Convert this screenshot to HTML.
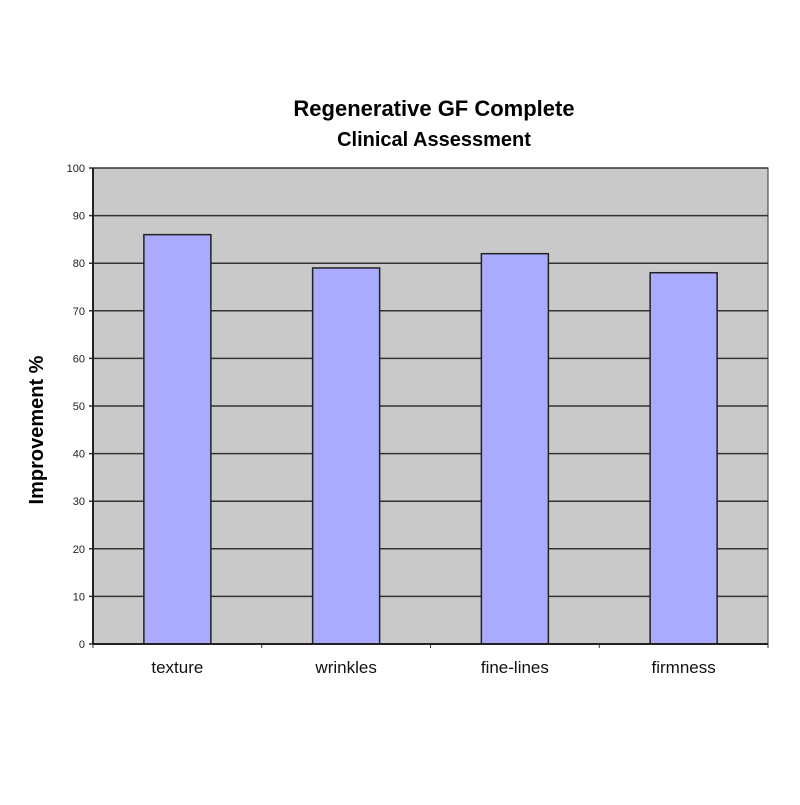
<!DOCTYPE html>
<html><head><meta charset="utf-8"><style>
body{margin:0;background:#fff;}
svg text{font-family:"Liberation Sans",sans-serif;}
</style></head><body>
<svg width="800" height="800" xmlns="http://www.w3.org/2000/svg">
<text x="434" y="116" text-anchor="middle" font-size="22" font-weight="bold">Regenerative GF Complete</text>
<text x="434" y="146" text-anchor="middle" font-size="20" font-weight="bold">Clinical Assessment</text>
<text transform="translate(43,430) rotate(-90)" text-anchor="middle" font-size="20" font-weight="bold">Improvement %</text>
<g id="plot"></g>
</svg>
<script>
const categories = ["texture","wrinkles","fine-lines","firmness"];
const values = [86,79,82,78];
const yTicks = [0,10,20,30,40,50,60,70,80,90,100];
const L=93,R=768,T=168,B=644,NS="http://www.w3.org/2000/svg";
const y=v=>B-(v/100)*(B-T);
const bw=(R-L)/categories.length;
const x=i=>L+bw*i;
const g=document.getElementById('plot');
function mk(t,a){const e=document.createElementNS(NS,t);for(const k in a)e.setAttribute(k,a[k]);g.appendChild(e);return e;}
let e=mk('rect',{x:L,y:T,width:R-L,height:B-T,fill:'#c9c9c9',stroke:'#333','stroke-width':1});


yTicks.forEach(v=>{
  const l=mk('line',{x1:L-4,x2:R,y1:y(v),y2:y(v),stroke:'#333','stroke-width':1.5});
  
  
  const t=mk('text',{x:L-8,y:y(v)+4,'text-anchor':'end','font-size':11,fill:'#222'});
  t.textContent=v;
  
  
});
categories.forEach((c,i)=>{
  const cx=x(i)+bw/2,w=67;
  const r=mk('rect',{x:cx-w/2,y:y(values[i]),width:w,height:B-y(values[i]),fill:'#aaaaff',stroke:'#222','stroke-width':1.5});
  
  
  const t=mk('text',{x:cx,y:673,'text-anchor':'middle','font-size':17,fill:'#111'});
  t.textContent=c;
  
  
});
for(let i=0;i<=categories.length;i++){
  const l=mk('line',{x1:x(i),x2:x(i),y1:B,y2:B+4,stroke:'#333','stroke-width':1});
  
  
}
const ax=mk('line',{x1:L,x2:L,y1:T,y2:B,stroke:'#222','stroke-width':2});


const bx=mk('line',{x1:L,x2:R,y1:B,y2:B,stroke:'#222','stroke-width':2});


</script>
</body></html>
